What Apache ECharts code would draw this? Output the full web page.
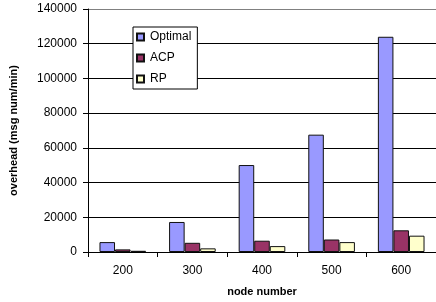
<!DOCTYPE html>
<html>
<head>
<meta charset="utf-8">
<script src="https://cdn.jsdelivr.net/npm/echarts@6/dist/echarts.min.js"></script>
<style>
  html, body { margin: 0; padding: 0; background: #fff; }
  #chart { width: 436px; height: 302px; }
</style>
</head>
<body>
<div id="chart"></div>
<script>
// data
var nodes = ['200', '300', '400', '500', '600'];
var optimal = [5700, 17300, 50100, 67600, 124000];
var acp = [1500, 5300, 6500, 7200, 12500];
var rp = [700, 2100, 3400, 5700, 9400];

var font = 'Liberation Sans, Arial, sans-serif';

var myChart = echarts.init(document.getElementById('chart'));

function barSeries(name, data, color) {
	return {
		name: name,
		type: 'bar',
		data: data,
		barGap: 0,
		barCategoryGap: '33%',
		itemStyle: {
			color: color,
			borderColor: '#111',
			borderWidth: 1
		}
	};
}

var option = {
	animation: false,
	textStyle: { fontFamily: font },
	grid: {
		left: 83,
		top: 9,
		width: 355,
		height: 243
	},
	legend: {
		orient: 'vertical',
		left: 133,
		top: 27,
		width: 63,
		padding: [4, 6, 4, 3],
		itemWidth: 7,
		itemHeight: 7,
		itemGap: 9,
		backgroundColor: '#fff',
		borderColor: '#000',
		borderWidth: 1,
		textStyle: { fontSize: 12, color: '#000', fontFamily: font, padding: [0, 0, 0, 1] },
		data: [
			{ name: 'Optimal', icon: 'rect' },
			{ name: 'ACP', icon: 'rect' },
			{ name: 'RP', icon: 'rect' }
		]
	},
	xAxis: {
		type: 'category',
		data: nodes,
		name: 'node number',
		nameLocation: 'middle',
		nameGap: 34,
		nameTextStyle: { fontSize: 11, fontWeight: 'bold', color: '#000', fontFamily: font },
		axisLine: { lineStyle: { color: '#000', width: 1 } },
		axisTick: { show: true, length: 5, lineStyle: { color: '#000' } },
		axisLabel: { fontSize: 12, color: '#000', margin: 13, fontFamily: font }
	},
	yAxis: {
		type: 'value',
		min: 0,
		max: 140000,
		interval: 20000,
		name: 'overhead (msg num/min)',
		nameLocation: 'middle',
		nameGap: 69,
		nameTextStyle: { fontSize: 11, fontWeight: 'bold', color: '#000', fontFamily: font },
		axisLine: { show: true, lineStyle: { color: '#000', width: 1 } },
		axisTick: { show: true, length: 5, lineStyle: { color: '#000' } },
		axisLabel: {
			fontSize: 12, color: '#000', margin: 11, fontFamily: font,
			formatter: function (v) { return String(v); }
		},
		splitLine: {
			lineStyle: {
				color: function (v) { return '#000'; },
				width: 1
			}
		}
	},
	series: [
		barSeries('Optimal', optimal, '#9999ff'),
		barSeries('ACP', acp, '#993366'),
		barSeries('RP', rp, '#ffffcc')
	]
};

// top line of the plot is grey in the original
option.yAxis.splitLine.lineStyle.color = ['#000', '#000', '#000', '#000', '#000', '#000', '#000', '#808080'];

myChart.setOption(option);
</script>
</body>
</html>
